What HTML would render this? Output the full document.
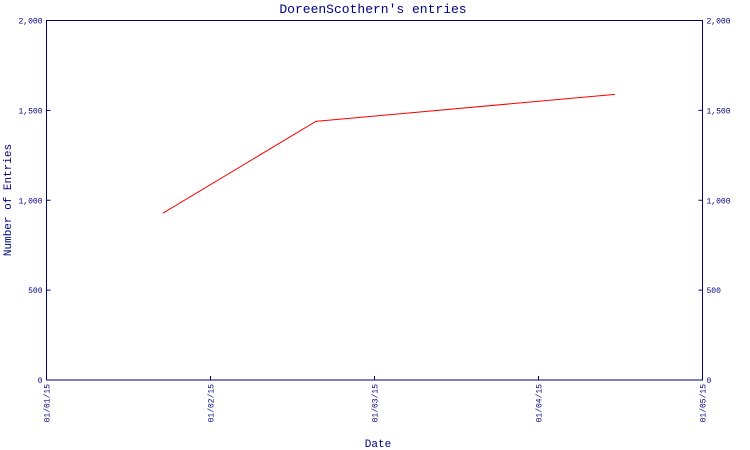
<!DOCTYPE html>
<html><head><meta charset="utf-8"><style>
html,body{margin:0;padding:0;background:#fff;}
svg{display:block;font-family:"Liberation Mono","DejaVu Sans Mono",monospace;}
</style></head><body>
<svg id="chart" width="750" height="450" viewBox="0 0 750 450">
<rect x="0" y="0" width="750" height="450" fill="#fff"/>
<text x="373" y="13" text-anchor="middle" font-size="13" fill="#000080">DoreenScothern's entries</text>
<text x="378" y="447" text-anchor="middle" font-size="11" fill="#000080">Date</text>
<text transform="translate(11,200) rotate(-90)" text-anchor="middle" font-size="11" fill="#000080">Number of Entries</text>
<rect x="46.5" y="20.5" width="656" height="359.5" fill="none" stroke="#000080" stroke-width="1"/>
<g id="ticks"></g>
<g id="series"></g>
</svg>
<script>
const xTickLabels = ["01/01/15","01/02/15","01/03/15","01/04/15","01/05/15"];
const yTickValues = [0,500,1000,1500,2000];
const pointDates = ["2015-01-23","2015-02-19","2015-04-15"];
const pointValues = [928,1439,1589];

const X0=46.5, X1=702.5, Y0=380, Y1=20.5, YMAX=2000;
const NS="http://www.w3.org/2000/svg";
function xMonth(m){return X0+(X1-X0)*m/(xTickLabels.length-1);}
function xDate(s){
  const d=new Date(s+"T00:00:00Z");
  const mi=(d.getUTCFullYear()-2015)*12+d.getUTCMonth();
  const dim=new Date(Date.UTC(d.getUTCFullYear(),d.getUTCMonth()+1,0)).getUTCDate();
  return xMonth(mi+(d.getUTCDate()-1)/dim);
}
function y(v){return Y0-(Y0-Y1)*v/YMAX;}
function fmt(v){return v.toString().replace(/\B(?=(\d{3})+(?!\d))/g,",");}
const tg=document.getElementById("ticks");
xTickLabels.forEach((l,i)=>{
  const x=xMonth(i);
  const t=document.createElementNS(NS,"line");
  
  
  t.setAttribute("x1",x);t.setAttribute("x2",x);t.setAttribute("y1",376);t.setAttribute("y2",380);
  t.setAttribute("stroke","#000080");tg.appendChild(t);
  const tx=document.createElementNS(NS,"text");
  
  
  tx.setAttribute("transform","translate("+(x+3)+",384) rotate(-90)");
  tx.setAttribute("text-anchor","end");tx.setAttribute("font-size","8");tx.setAttribute("fill","#000080");
  tx.textContent=l;tg.appendChild(tx);
});
yTickValues.forEach(v=>{
  const yy=y(v);
  [[X0,X0+4,X0-4,"end"],[X1-4,X1,X1+4,"start"]].forEach(([a,b,tx0,anc],side)=>{
    const t=document.createElementNS(NS,"line");
    
    
    t.setAttribute("x1",a);t.setAttribute("x2",b);t.setAttribute("y1",yy);t.setAttribute("y2",yy);
    t.setAttribute("stroke","#000080");tg.appendChild(t);
    const tx=document.createElementNS(NS,"text");
    
    
    tx.setAttribute("x",tx0);tx.setAttribute("y",yy+3);tx.setAttribute("text-anchor",anc);
    tx.setAttribute("font-size","8");tx.setAttribute("fill","#000080");
    tx.textContent=fmt(v);tg.appendChild(tx);
  });
});
const pl=document.createElementNS(NS,"polyline");


pl.setAttribute("points",pointDates.map((d,i)=>xDate(d)+","+y(pointValues[i])).join(" "));
pl.setAttribute("fill","none");pl.setAttribute("stroke","#ff0000");pl.setAttribute("stroke-width","1");
document.getElementById("series").appendChild(pl);
</script>
</body></html>
